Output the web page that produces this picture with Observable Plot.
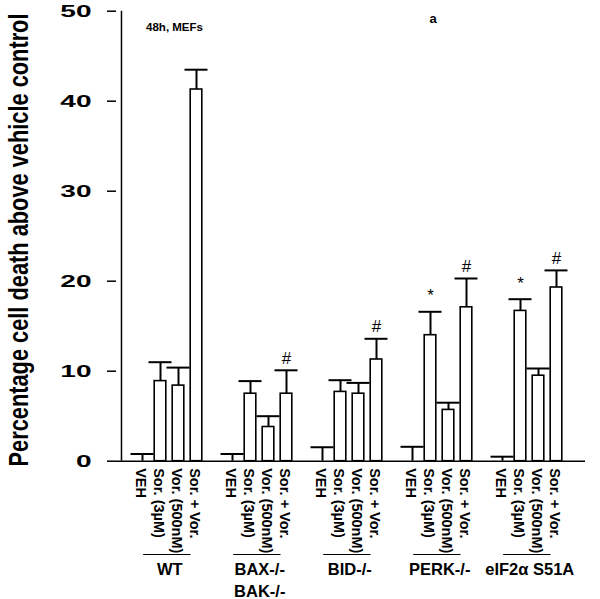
<!DOCTYPE html>
<html>
<head>
<meta charset="utf-8">
<script src="https://cdn.jsdelivr.net/npm/d3@7"></script>
<script src="https://cdn.jsdelivr.net/npm/@observablehq/plot@0.6"></script>
<style>
  html, body { margin: 0; padding: 0; background: #fff; }
</style>
</head>
<body>
<div id="chart"></div>
<script>
// ---- data ----
const groups = ["WT", "BAX-/-\nBAK-/-", "BID-/-", "PERK-/-", "eIF2α S51A"];
const treatments = ["VEH", "Sor. (3µM)", "Vor. (500nM)", "Sor. + Vor."];

const meanWT   = [0, 8.9, 8.4, 41.3];
const meanBAX  = [0, 7.5, 3.8, 7.5];
const meanBID  = [0, 7.7, 7.5, 11.3];
const meanPERK = [0, 14.0, 5.7, 17.1];
const meanEIF  = [0, 16.7, 9.5, 19.3];

const errWT   = [0.8, 2.1, 2.0, 2.2];
const errBAX  = [0.8, 1.4, 1.2, 2.6];
const errBID  = [1.55, 1.3, 1.2, 2.3];
const errPERK = [1.6, 2.6, 0.8, 3.2];
const errEIF  = [0.5, 1.3, 0.8, 1.9];

const sigWT   = ["", "", "", ""];
const sigBAX  = ["", "", "", "#"];
const sigBID  = ["", "", "", "#"];
const sigPERK = ["", "*", "", "#"];
const sigEIF  = ["", "*", "", "#"];

const yTicks = [0, 10, 20, 30, 40, 50];
const yTitle = "Percentage cell death above vehicle control";
const noteText = "48h, MEFs";
const panelText = "a";

// ---- build tables ----
const means = [meanWT, meanBAX, meanBID, meanPERK, meanEIF];
const errs = [errWT, errBAX, errBID, errPERK, errEIF];
const sigs = [sigWT, sigBAX, sigBID, sigPERK, sigEIF];

const rows = [];
const domain = [];
groups.forEach((g, gi) => {
  treatments.forEach((t, ti) => {
    const key = gi + "-" + ti;
    domain.push(key);
    rows.push({key, group: g, treatment: t, mean: means[gi][ti], err: errs[gi][ti], sig: sigs[gi][ti]});
  });
  if (gi < groups.length - 1) domain.push("gap" + gi);
});
const groupRows = groups.map((g, gi) => ({
  label: g,
  first: gi + "-0",
  second: gi + "-1",
  last: gi + "-" + (treatments.length - 1)
}));

const W = 600, H = 599;
const mLeft = 116, mRight = 15, mTop = 10.7, mBottom = 599 - 460.7;
const xRange = [127.8, 570.2];
const bw = (xRange[1] - xRange[0]) / domain.length;
const font = "'Liberation Sans', Arial, Helvetica, sans-serif";

const chart = Plot.plot({
  width: W,
  height: H,
  marginLeft: mLeft,
  marginRight: mRight,
  marginTop: mTop,
  marginBottom: mBottom,
  style: {fontFamily: font, background: "#fff", color: "#000", overflow: "visible"},
  x: {type: "band", domain, range: xRange, padding: 0, axis: null},
  y: {domain: [0, 50], axis: null},
  marks: [
    // y axis
    Plot.axisY({ticks: yTicks, tickSize: 9, tickPadding: 16, fontSize: 17, fontWeight: "bold", strokeWidth: 1.5, label: null, tickFormat: d => String(d)}),
    Plot.ruleX([domain[0]], {x: d => d, y1: 0, y2: 50, dx: -(xRange[0] - mLeft + bw / 2), stroke: "#000", strokeWidth: 1.5}),
    // bars
    Plot.barY(rows, {x: "key", y: "mean", fill: "#fff", stroke: "#000", strokeWidth: 1.6, insetLeft: 3.2, insetRight: 3.2}),
    // error bars
    Plot.ruleX(rows, {x: "key", y1: "mean", y2: d => d.mean + d.err, stroke: "#000", strokeWidth: 2}),
    Plot.tickY(rows, {x: "key", y: d => d.mean + d.err, stroke: "#000", strokeWidth: 2, insetLeft: -2.5, insetRight: -2.5}),
    // baseline
    Plot.ruleY([0], {stroke: "#000", strokeWidth: 1.5}),
    // significance marks
    Plot.text(rows.filter(d => d.sig === "#"), {x: "key", y: d => d.mean + d.err, text: "sig", dy: -12, fontSize: 17, lineAnchor: "middle", fill: "#000"}),
    Plot.text(rows.filter(d => d.sig === "*"), {x: "key", y: d => d.mean + d.err, text: "sig", dy: -16, fontSize: 17, lineAnchor: "middle", fill: "#000"}),
    // treatment labels
    Plot.text(rows, {x: "key", y: 0, text: "treatment", rotate: 90, textAnchor: "start", lineAnchor: "middle", dy: 7, dx: -2, fontSize: 14.5, fontWeight: "bold", fill: "#000"}),
    // group lines and labels
    Plot.ruleY(groupRows, {y: 0, x1: "first", x2: "last", dy: 93.3, insetLeft: 10.2, insetRight: 14.5, stroke: "#000", strokeWidth: 1}),
    Plot.text(groupRows, {x: "second", y: 0, text: "label", dx: bw / 2, dy: 98.8, lineAnchor: "top", lineHeight: 1.3, fontSize: 16.5, fontWeight: "bold", fill: "#000"}),
    // notes
    Plot.text([noteText], {frameAnchor: "top-left", text: d => d, dx: 58, dy: 16.3, fontSize: 11.5, fontWeight: "bold", textAnchor: "middle", lineAnchor: "middle", fill: "#000"}),
    Plot.text([panelText], {frameAnchor: "top-left", text: d => d, dx: 316.7, dy: 7.8, fontSize: 13, fontWeight: "bold", textAnchor: "middle", lineAnchor: "middle", fill: "#000"})
  ]
});

// widen the y tick labels like the reference
chart.querySelectorAll('g[aria-label="y-axis tick label"] text').forEach(t => {
  const tr = t.getAttribute("transform") || "";
  t.setAttribute("transform", tr + " scale(1.65,1)");
});

// y axis title (rotated, glyphs widened)
d3.select(chart).append("text")
  .attr("transform", "translate(28.3,240) scale(1.24,1) rotate(-90)")
  .attr("text-anchor", "middle")
  .attr("font-family", font)
  .attr("font-weight", "bold")
  .attr("font-size", 21.8)
  .attr("fill", "#000")
  .text(yTitle);

document.getElementById("chart").appendChild(chart);
</script>
</body>
</html>
